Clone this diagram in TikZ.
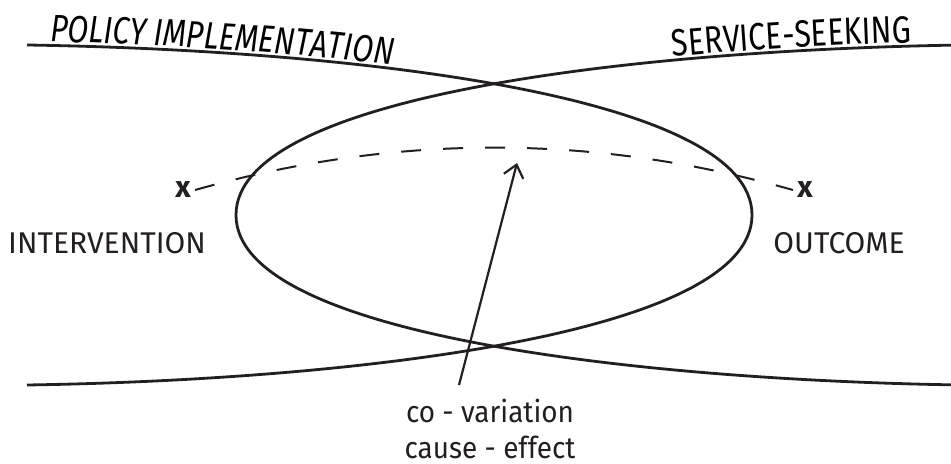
\documentclass[tikz,border=0pt]{standalone}
\usepackage{fontspec}
\setmainfont{Fira Sans}
\newfontfamily\condfont[FakeStretch=0.8]{Fira Sans}
\newfontfamily\narrowfont[FakeStretch=0.93]{Fira Sans}
\usetikzlibrary{arrows.meta,decorations.text}
\definecolor{inkblack}{HTML}{231F20}

\begin{document}
\begin{tikzpicture}[x=0.5pt, y=-0.5pt, color=inkblack,
    term/.style={font=\fontsize{15}{18}\selectfont, inner sep=0pt},
    effect/.style={font=\narrowfont\fontsize{15}{18}\selectfont, inner sep=0pt, anchor=base},
    xmark/.style={font=\fontsize{15}{18}\selectfont\bfseries, inner sep=2pt},
    curve/.style={line width=1.4pt}]
  \useasboundingbox (0,0) rectangle (951,464);
  % the two crossing curves
  \draw[curve] (27,45) .. controls (350,50) and (752,95) .. (752,215)
    .. controls (752,335) and (350,380) .. (27,385);
  \draw[curve] (961,45) .. controls (638,50) and (236,95) .. (236,215)
    .. controls (236,335) and (638,380) .. (961,385);
  % curved titles, just above the curves
  \path[decorate, decoration={text along path, text align={left indent=11.5pt},
      text={|\condfont\itshape\fontsize{19}{22}\selectfont|POLICY IMPLEMENTATION}}]
    (27,41.5) .. controls (350,46.5) and (752,91.5) .. (752,211.5);
  \path[decorate, decoration={text along path, text align={align=right, right indent=25pt},
      text={|\condfont\fontsize{19}{22}\selectfont|SERVICE-SEEKING}}]
    (236,211.5) .. controls (236,91.5) and (638,46.5) .. (961,41.5);
  % ends of the dashed line
  \node[xmark] (xleft) at (183,190) {x};
  \node[xmark] (xright) at (805,190) {x};
  \node[term] (intervention) at (107,243) {INTERVENTION};
  \node[term] (outcome) at (839,243) {OUTCOME};
  \draw[line width=1pt, dash pattern=on 10pt off 11pt] (xleft.east)
    .. controls (393,134) and (592,133) .. (xright.west);
  % pointer from the labels
  \node[effect] (covar) at (490,422) {co - variation};
  \node[effect] (causeeff) at (490,458) {cause - effect};
  \coordinate (tail) at (459,385);
  \coordinate (apex) at (517,163);
  \draw[line width=1.1pt, -{Straight Barb[length=6pt,width=10pt]}] (tail) -- (apex);
\end{tikzpicture}
\end{document}
